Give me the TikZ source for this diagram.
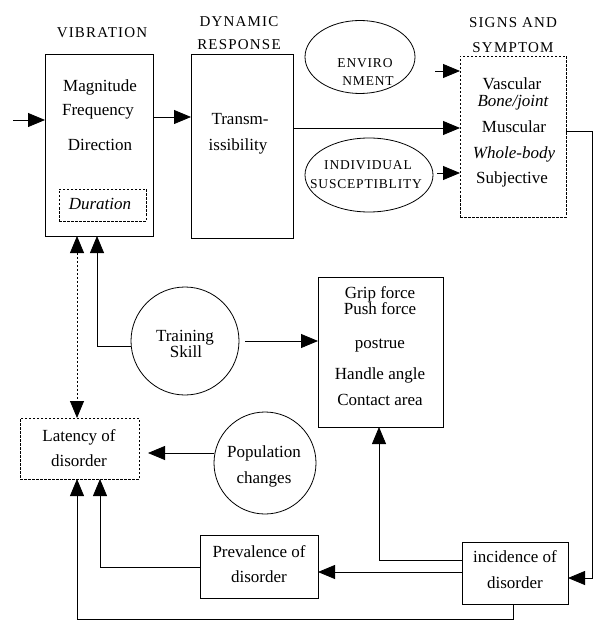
\documentclass[tikz,border=0pt]{standalone}
\usepackage{fontspec}
\setmainfont{Liberation Serif}
\usetikzlibrary{arrows.meta,shapes.geometric}
\begin{document}
\begin{tikzpicture}[x=1pt,y=-1pt,
  line width=0.8pt,
  every node/.style={inner sep=0pt,outer sep=0pt},
  txt/.style={font=\fontsize{17}{19}\selectfont,text height=11pt,text depth=3pt},
  itxt/.style={font=\fontsize{17}{19}\selectfont\itshape,text height=11pt,text depth=3pt},
  ttl/.style={font=\fontsize{15}{17}\selectfont\addfontfeature{LetterSpace=8},text height=10pt,text depth=0pt},
  ctxt/.style={font=\fontsize{13.5}{15}\selectfont\addfontfeature{LetterSpace=6},text height=9pt,text depth=0pt},
  box/.style={draw,rectangle},
  dbox/.style={draw,rectangle,dash pattern=on 2.5pt off 1.5pt},
  oval/.style={draw,ellipse},
  ring/.style={draw,circle},
  arr/.style={-{Triangle[length=17pt,width=14pt]}},
  darr/.style={{Triangle[length=17pt,width=14pt]}-{Triangle[length=17pt,width=14pt]},dash pattern=on 2.5pt off 1.5pt},
]
\useasboundingbox (0,0) rectangle (593,620);

% helper coordinates
\coordinate (inS) at (13,120);
\coordinate (y117) at (0,117);
\coordinate (y128) at (0,128);
\coordinate (y71) at (0,71);
\coordinate (y173) at (0,173);
\coordinate (y131) at (0,131);
\coordinate (y578) at (0,578);
\coordinate (y453) at (0,453);
\coordinate (y567) at (0,567);
\coordinate (y572) at (0,572);
\coordinate (y560) at (0,560);
\coordinate (yB) at (0,619);
\coordinate (xR) at (592,0);
\coordinate (x97) at (97,0);
\coordinate (x77) at (77,0);
\coordinate (x100) at (100,0);
\coordinate (x379) at (379,0);
\coordinate (x513) at (513,0);

% boxes
\node[box, minimum width=108pt, minimum height=182pt] (vib) at (99,145) {};
\node[dbox, minimum width=87pt, minimum height=32pt] (dur) at (102.5,205) {};
\node[box, minimum width=102pt, minimum height=184pt] (dyn) at (242,146) {};
\node[dbox, minimum width=106pt, minimum height=161pt] (sig) at (513,136.5) {};
\node[oval, minimum width=110pt, minimum height=73pt] (env) at (360,57) {};
\node[oval, minimum width=128pt, minimum height=74pt] (ind) at (369,175) {};
\node[ring, minimum size=108pt] (trn) at (185,341) {};
\node[box, minimum width=125pt, minimum height=150pt] (grip) at (380.5,352) {};
\node[dbox, minimum width=119pt, minimum height=61pt] (lat) at (79.5,448.5) {};
\node[ring, minimum size=102pt] (pop) at (265,463) {};
\node[box, minimum width=118pt, minimum height=63pt] (prev) at (259,566.5) {};
\node[box, minimum width=106pt, minimum height=62pt] (inc) at (515,573) {};

% titles
\node[ttl] (tvib) at (102,33) {VIBRATION};
\node[ttl] (tdyn1) at (239,22) {DYNAMIC};
\node[ttl] (tdyn2) at (239,45) {RESPONSE};
\node[ttl] (tsig1) at (513,23) {SIGNS AND};
\node[ttl] (tsig2) at (513,48) {SYMPTOM};

% texts
\node[txt] (m1) at (100,88) {Magnitude};
\node[txt] (m2) at (98,112) {Frequency};
\node[txt] (m3) at (100,147) {Direction};
\node[itxt] (m4) at (100,205) {Duration};
\node[txt] (d1) at (240,121) {Transm-};
\node[txt] (d2) at (238,147) {issibility};
\node[ctxt] (e1) at (365,63) {ENVIRO};
\node[ctxt] (e2) at (368,81) {NMENT};
\node[ctxt] (i1) at (368,165) {INDIVIDUAL};
\node[ctxt] (i2) at (366,184) {SUSCEPTIBLITY};
\node[txt] (s1) at (512,86) {Vascular};
\node[itxt] (s2) at (513,103) {Bone/joint};
\node[txt] (s3) at (514,129) {Muscular};
\node[itxt] (s4) at (514,155) {Whole-body};
\node[txt] (s5) at (512,180) {Subjective};
\node[txt] (t1) at (185,337) {Training};
\node[txt] (t2) at (186,353) {Skill};
\node[txt] (g1) at (380,294) {Grip force};
\node[txt] (g2) at (380,310) {Push force};
\node[txt] (g3) at (380,344) {postrue};
\node[txt] (g4) at (380,375) {Handle angle};
\node[txt] (g5) at (380,401) {Contact area};
\node[txt] (l1) at (79,437) {Latency of};
\node[txt] (l2) at (79,462) {disorder};
\node[txt] (p1) at (264,453) {Population};
\node[txt] (p2) at (264,479) {changes};
\node[txt] (r1) at (259,553) {Prevalence of};
\node[txt] (r2) at (259,578) {disorder};
\node[txt] (c1) at (515,558) {incidence of};
\node[txt] (c2) at (515,584) {disorder};

% connectors
\draw[arr] (inS) -- (vib.west |- inS);
\draw[arr] (vib.east |- y117) -- (dyn.west |- y117);
\draw[arr] (dyn.east |- y128) -- (sig.west |- y128);
\draw[arr, shorten <=20pt] (env.east |- y71) -- (sig.west |- y71);
\draw[arr, shorten <=4pt] (ind.east |- y173) -- (sig.west |- y173);
\draw[arr] (sig.east |- y131) -- (xR |- y131) -- (xR |- y578) -- (inc.east |- y578);
\draw[arr] (trn.186) -| (x97 |- vib.south);
\draw[darr] (x77 |- vib.south) -- (x77 |- lat.north);
\draw[arr, shorten <=6pt] (trn.east) -- (grip.west |- trn.east);
\draw[arr, shorten >=9pt] (pop.west |- y453) -- (lat.east |- y453);
\draw[arr] (prev.west |- y567) -| (x100 |- lat.south);
\draw[arr] (inc.west |- y572) -- (prev.east |- y572);
\draw[arr] (inc.west |- y560) -| (x379 |- grip.south);
\draw[arr] (x513 |- inc.south) -- (x513 |- yB) -| (x77 |- lat.south);
\end{tikzpicture}
\end{document}
